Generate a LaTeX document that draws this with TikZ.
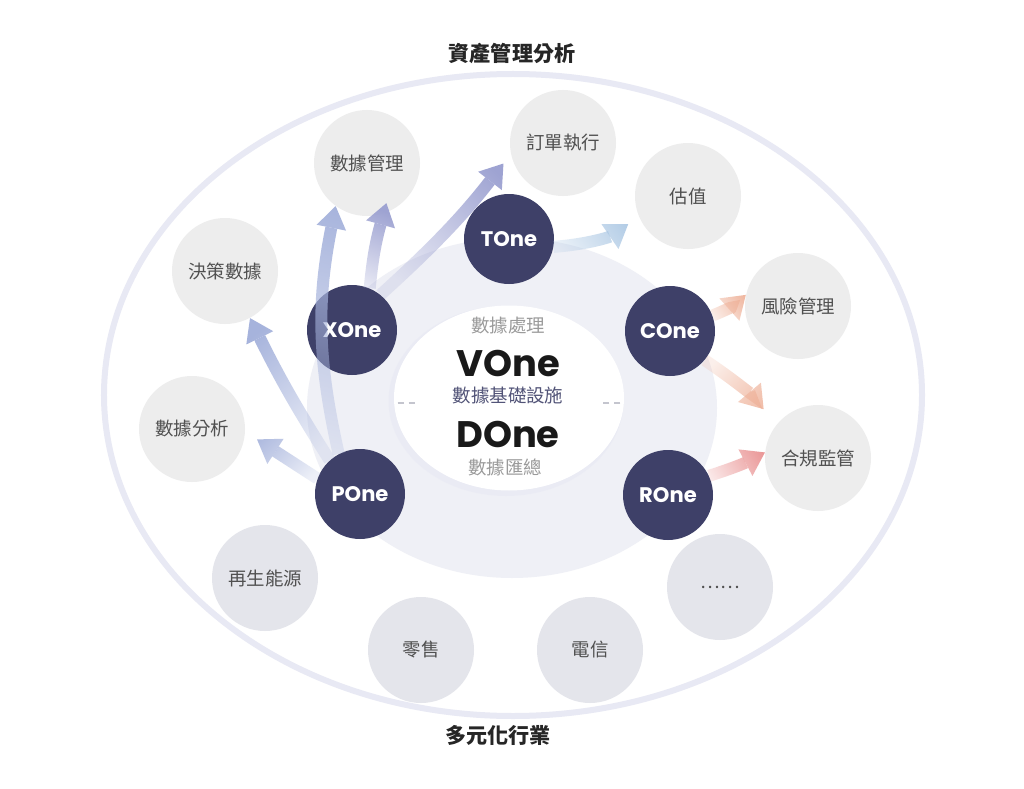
\documentclass[tikz,border=0pt]{standalone}
\usepackage{fontspec}
\setmainfont{Noto Sans CJK TC}
\newfontfamily\brandfont{Poppins}
\usetikzlibrary{arrows.meta, fadings, shapes.geometric}
\usepackage{xcolor}
\definecolor{navy}{HTML}{3E4068}
\definecolor{bubblegray}{HTML}{EDEDED}
\definecolor{bubblelow}{HTML}{E4E5EB}
\definecolor{bandgray}{HTML}{EFF0F6}
\definecolor{rimgray}{HTML}{E8E9F4}
\definecolor{labelgray}{HTML}{505050}
\definecolor{softgray}{HTML}{9A9A9A}
\definecolor{dashgray}{HTML}{C4C5CE}
\definecolor{arrviolet}{HTML}{9EA3D2}
\definecolor{arrblue}{HTML}{A6B3DC}
\definecolor{arrsky}{HTML}{A9C6E3}
\definecolor{arrpeach}{HTML}{EFB39B}
\definecolor{arrrose}{HTML}{EA9595}
\tikzfading[name=tailfade, left color=transparent!80, right color=transparent!0]
\tikzset{
    bubble/.style = {circle, fill=bubblegray, minimum size=21.2mm, inner sep=0pt, text=labelgray, font=\fontsize{10.5pt}{12pt}\selectfont},
    lowbubble/.style = {bubble, fill=bubblelow},
    hub/.style = {circle, fill=navy, minimum size=18mm, inner sep=0pt, text=white, font=\brandfont\bfseries\fontsize{12pt}{14pt}\selectfont},
    brand/.style = {font=\brandfont\bfseries\fontsize{21pt}{22pt}\selectfont, text=black!90, inner sep=1pt, text depth=0pt, anchor=base},
    caption/.style = {font=\fontsize{10.5pt}{12pt}\selectfont, text=softgray, inner sep=0.5pt, text height=0.8em, text depth=0.12em},
    heading/.style = {font=\bfseries\fontsize{12pt}{14pt}\selectfont, text=black!85},
    flow/.style = {line width=2.4mm, -{Triangle[width=6mm,length=4.4mm,line width=0pt]}, path fading=tailfade}
}

\begin{document}
\begin{tikzpicture}[x=0.2mm, y=-0.2mm]
\fill[white] (0,0) rectangle (1024,789);
\useasboundingbox (0,0) rectangle (1024,789);

% ---- outer rim and inner band ----
\node[ellipse, draw=rimgray, line width=1.2mm, minimum width=163.6mm, minimum height=128.4mm] (rim) at (513,395) {};
\node[ellipse, fill=bandgray, minimum width=82mm, minimum height=68mm] (band) at (512,408) {};

% ---- core (VOne / DOne) ----
\node[ellipse, fill=rimgray, opacity=0.6, minimum width=47mm, minimum height=38mm] (glow) at (506,401) {};
\node[ellipse, fill=white, minimum width=46mm, minimum height=37mm] (core) at (509,398) {};
\draw[dashgray, line width=0.5mm, dash pattern=on 1.2mm off 1mm] ([shift={(0.8mm,-1mm)}]core.west) -- ++(3.4mm,0);
\draw[dashgray, line width=0.5mm, dash pattern=on 1.2mm off 1mm] ([shift={(-0.8mm,-1mm)}]core.east) -- ++(-3.4mm,0);
\node[caption] (proc) at (508,327) {數據處理};
\node[brand] (vone) at (508,376) {VOne};
\node[caption, text=navy!90] (infra) at (508,397) {數據基礎設施};
\node[brand] (done) at (508,447) {DOne};
\node[caption] (agg) at (505,469) {數據匯總};

% ---- bubbles (upper) ----
\node[bubble] (datamgmt) at (367,163) {數據管理};
\node[bubble] (order) at (563,143) {訂單執行};
\node[bubble] (valuation) at (688,196) {估值};
\node[bubble] (decision) at (225,271) {決策數據};
\node[bubble] (risk) at (798,306) {風險管理};
\node[bubble] (analysis) at (192,429) {數據分析};
\node[bubble] (compliance) at (818,458) {合規監管};

% ---- bubbles (industries) ----
\node[lowbubble] (energy) at (265,578) {再生能源};
\node[lowbubble] (retail) at (421,650) {零售};
\node[lowbubble] (telecom) at (590,650) {電信};
\node[lowbubble] (more) at (720,587) {……};

% ---- hubs ----
\node[hub] (tone) at (509,239) {TOne};
\node[hub] (xone) at (352,330) {XOne};
\node[hub] (cone) at (670,331) {COne};
\node[hub] (pone) at (360,494) {POne};
\node[hub] (rone) at (668,495) {ROne};

% ---- Arrows ----
\draw[flow, arrblue, fading angle=88] (pone.118) to[bend left=12] (datamgmt.-126);
\draw[flow, arrblue, fading angle=118] (pone.132) to[bend left=3] (decision.-62);
\draw[flow, arrblue, fading angle=143, shorten >=2.8mm] (pone.160) -- (analysis.-3);
\draw[flow, arrviolet, fading angle=83, shorten >=-2.2mm] (xone.67) to[bend left=5] (datamgmt.-72);
\draw[flow, arrviolet, fading angle=49, shorten >=2.4mm] (xone.51) to[bend right=5] (order.192);
\draw[flow, arrsky, fading angle=18, shorten >=2.6mm] (tone.-10) to[bend right=15] (valuation.203);
\draw[flow, arrpeach, fading angle=28] (cone.20) to[bend right=10] (risk.168);
\draw[flow, arrpeach, fading angle=-39, shorten >=4mm] (cone.-40) to[bend left=8] (compliance.141);
\draw[flow, arrrose, fading angle=18] (rone.25) to[bend right=5] (compliance.174);

% ---- titles ----
\node[heading] (top) at (512,53) {資產管理分析};
\node[heading] (bottom) at (498,735) {多元化行業};

\end{tikzpicture}
\end{document}
